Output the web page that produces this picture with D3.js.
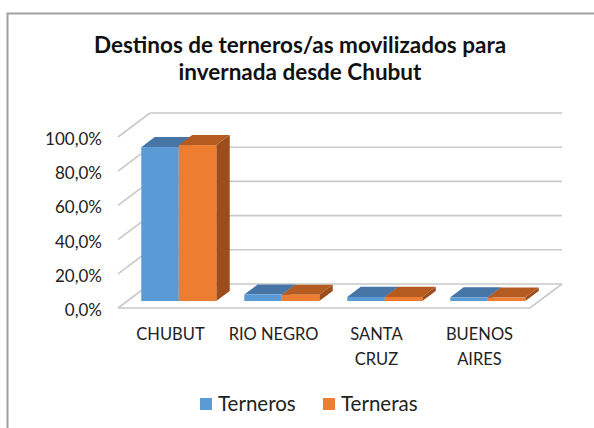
<!DOCTYPE html>
<html>
<head>
<meta charset="utf-8">
<script src="https://cdn.jsdelivr.net/npm/d3@7"></script>
<style>
  body { margin: 0; background: #fff; }
  svg { display: block; font-family: Lato, "Liberation Sans", sans-serif; }
</style>
</head>
<body>
<svg id="chart" width="594" height="428"></svg>
<script>
(function() {

	var categories = [["CHUBUT"], ["RIO NEGRO"], ["SANTA", "CRUZ"], ["BUENOS", "AIRES"]],
		series = ["Terneros", "Terneras"],
		terneros = [0.90, 0.038, 0.024, 0.022],
		terneras = [0.912, 0.037, 0.024, 0.02],
		ticks = [0, 0.2, 0.4, 0.6, 0.8, 1.0],
		titleLines = ["Destinos de terneros/as movilizados para", "invernada desde Chubut"];

	var colors = { front: ["#5b9bd5", "#ed7d31"], top: ["#4675a6", "#b45b22"], side: ["#3f6a96", "#9c4d1b"] };

	var left = 118, right = 530,
		depthX = 32, depthY = -24,
		barT0 = 0.29, barT1 = 0.71;

	var svg = d3.select('#chart');

	// marco del grafico
	svg.append('path')
		.attr('d', 'M7.5,428 L7.5,13.5 L594,13.5')
		.attr('fill', 'none')
		.attr('stroke', '#a0a0a0')
		.attr('stroke-width', 2);

	svg.selectAll('.title').data(titleLines).enter()
		.append('text')
			.attr('class', 'title')
			.attr('x', 300)
			.attr('y', function(d, i) { return 53 + i * 27; })
			.attr('text-anchor', 'middle')
			.attr('font-weight', 'bold')
			.attr('font-size', 22.5)
			.attr('fill', '#111')
			.text(function(d) { return d; });

	var y = d3.scaleLinear().domain([0, 1]).range([308, 137]);
	var x0 = d3.scaleBand().domain(d3.range(categories.length)).range([left, right]);
	var x1 = d3.scaleBand().domain(series).range([0, x0.bandwidth()]).paddingOuter(0.373);

	var grid = svg.append('g').attr('stroke', '#c9c9c9').attr('stroke-width', 1.6).attr('fill', 'none');

	// pared del fondo
	grid.selectAll('.back').data(ticks).enter()
		.append('line')
			.attr('x1', left + depthX).attr('x2', right + depthX)
			.attr('y1', function(d) { return y(d) + depthY; })
			.attr('y2', function(d) { return y(d) + depthY; });

	// pared izquierda
	grid.selectAll('.side').data(ticks).enter()
		.append('line')
			.attr('x1', left).attr('x2', left + depthX)
			.attr('y1', function(d) { return y(d); })
			.attr('y2', function(d) { return y(d) + depthY; });

	// piso
	grid.append('path')
		.attr('d', 'M' + left + ',' + y(0) + 'L' + right + ',' + y(0) + 'L' + (right + depthX) + ',' + (y(0) + depthY));

	svg.selectAll('.ylab').data(ticks).enter()
		.append('text')
			.attr('x', 102)
			.attr('y', function(d) { return y(d) + 8; })
			.attr('text-anchor', 'end')
			.attr('font-size', 17)
			.attr('fill', '#222')
			.text(function(d) { return d3.format('.1f')(d * 100).replace('.', ',') + '%'; });

	var rows = [];
	categories.forEach(function(c, i) {
		rows.push({ cat: i, s: 0, v: terneros[i] });
		rows.push({ cat: i, s: 1, v: terneras[i] });
	});

	var ox = depthX * barT0, oy = depthY * barT0,
		dx = depthX * (barT1 - barT0), dy = depthY * (barT1 - barT0);

	var bar = svg.selectAll('.bar').data(rows).enter()
		.append('g').attr('class', 'bar');

	var bx = function(d) { return x0(d.cat) + x1(series[d.s]) + ox; },
		bw = x1.bandwidth(),
		base = y(0) + oy,
		by = function(d) { return y(d.v) + oy; };

	bar.append('path')
		.attr('fill', function(d) { return colors.side[d.s]; })
		.attr('d', function(d) {
			var X = bx(d) + bw;
			return 'M' + X + ',' + by(d) + 'L' + (X + dx) + ',' + (by(d) + dy) + 'L' + (X + dx) + ',' + (base + dy) + 'L' + X + ',' + base + 'Z';
		});
	bar.append('path')
		.attr('fill', function(d) { return colors.top[d.s]; })
		.attr('d', function(d) {
			var X = bx(d), Y = by(d);
			return 'M' + X + ',' + Y + 'L' + (X + dx) + ',' + (Y + dy) + 'L' + (X + bw + dx) + ',' + (Y + dy) + 'L' + (X + bw) + ',' + Y + 'Z';
		});
	bar.append('rect')
		.attr('fill', function(d) { return colors.front[d.s]; })
		.attr('x', bx)
		.attr('y', by)
		.attr('width', bw)
		.attr('height', function(d) { return base - by(d); });

	var cat = svg.selectAll('.cat').data(categories).enter()
		.append('text')
			.attr('text-anchor', 'middle')
			.attr('font-size', 16.5)
			.attr('fill', '#222');
	cat.selectAll('tspan').data(function(d, i) { return d.map(function(t) { return { t: t, i: i }; }); }).enter()
		.append('tspan')
			.attr('x', function(d) { return x0(d.i) + x0.bandwidth() / 2 + 1; })
			.attr('y', function(d, j) { return 340 + j * 25; })
			.text(function(d) { return d.t; });

	var leg = svg.selectAll('.leg').data(series).enter()
		.append('g')
			.attr('transform', function(d, i) { return 'translate(' + (200 + i * 123) + ',398)'; });
	leg.append('rect')
		.attr('width', 12).attr('height', 12)
		.attr('fill', function(d, i) { return colors.front[i]; });
	leg.append('text')
		.attr('x', 18).attr('y', 13)
		.attr('font-size', 20.5)
		.attr('fill', '#222')
		.text(function(d) { return d; });

})();
</script>
</body>
</html>
